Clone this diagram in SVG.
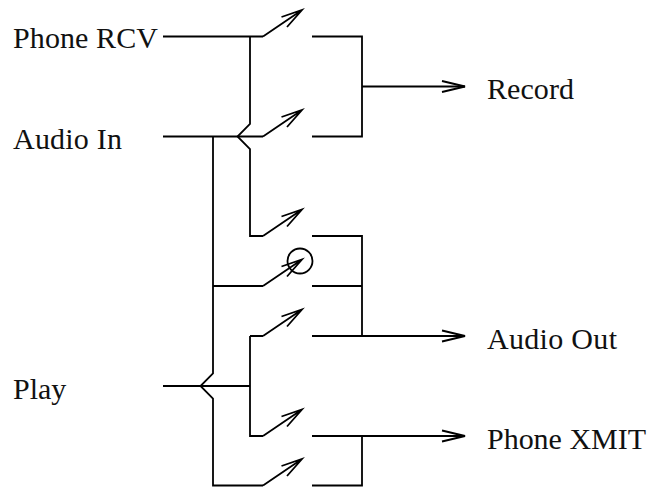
<svg xmlns="http://www.w3.org/2000/svg" width="648" height="487" viewBox="0 0 648 487">
<defs>
<style>
.w{fill:none;stroke:#000;stroke-width:1.800;stroke-linejoin:miter}
.t{font-family:"Liberation Serif","Times New Roman",serif;font-size:30px;fill:#111}
</style>
<path id="sw" class="w" d="M0 0L39-26.500M18.500-19.500L39-26.500L24-9.500"/>
<path id="ah" class="w" d="M-23-5.500L0 0L-23 5.500"/>
</defs>
<rect width="648" height="487" fill="#fff"/>
<g id="connectors">
<path class="w" d="M163 36.500H263M250 36.500V124L237.500 136.500L250 149V236H263"/>
<path class="w" d="M163 136.500H263M213 136.500V373.500L200.500 386L213 398.500V485.500H263M213 286H263"/>
<path class="w" d="M163 386H250M250 336V436H263M250 336H263"/>
<use href="#sw" x="263" y="36.500"/>
<use href="#sw" x="263" y="136.500"/>
<use href="#sw" x="263" y="236"/>
<use href="#sw" x="263" y="286"/>
<use href="#sw" x="263" y="336"/>
<use href="#sw" x="263" y="436"/>
<use href="#sw" x="263" y="485.500"/>
<path class="w" d="M312 36.500H362V136.500H312M362 86.500H465"/>
<path class="w" d="M312 236H362V336M312 286H362M312 336H465"/>
<path class="w" d="M312 436H465M362 436V485.500H312"/>
<use href="#ah" x="465" y="86.500"/>
<use href="#ah" x="465" y="336"/>
<use href="#ah" x="465" y="436"/>
</g>
<g id="node-circle"><circle class="w" cx="300" cy="261" r="12.500"/></g>
<g id="node-phone-rcv"><text class="t" x="13" y="48" textLength="145" lengthAdjust="spacing">Phone RCV</text></g>
<g id="node-audio-in"><text class="t" x="13" y="149" textLength="109" lengthAdjust="spacing">Audio In</text></g>
<g id="node-play"><text class="t" x="13" y="399">Play</text></g>
<g id="node-record"><text class="t" x="487" y="99" textLength="87" lengthAdjust="spacing">Record</text></g>
<g id="node-audio-out"><text class="t" x="487" y="349" textLength="130" lengthAdjust="spacing">Audio Out</text></g>
<g id="node-phone-xmit"><text class="t" x="487" y="449" textLength="159" lengthAdjust="spacing">Phone XMIT</text></g>
</svg>
